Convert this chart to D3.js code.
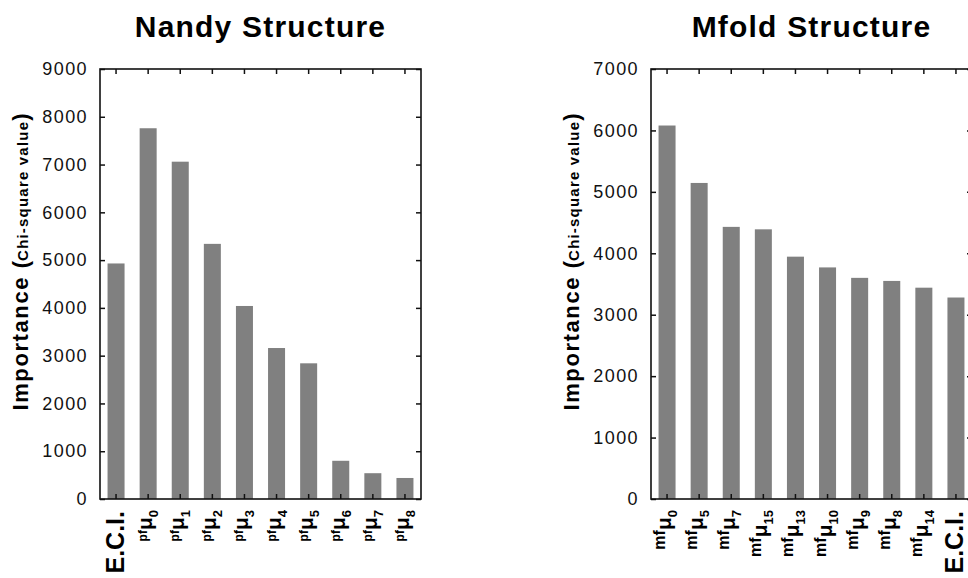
<!DOCTYPE html>
<html>
<head>
<meta charset="utf-8">
<script src="https://cdn.jsdelivr.net/npm/d3@7"></script>
<style>
  body { margin: 0; background: #fff; }
  svg { display: block; font-family: "Liberation Sans", Arial, Helvetica, sans-serif; }
</style>
</head>
<body>
<svg id="chart" width="968" height="578"></svg>
<script>
// values
let nandyLabels = ["E.C.I.", "pfμ0", "pfμ1", "pfμ2", "pfμ3", "pfμ4", "pfμ5", "pfμ6", "pfμ7", "pfμ8"];
let nandyValues = [4930, 7760, 7060, 5340, 4040, 3160, 2840, 800, 540, 440];
let nandyTicks = [0, 1000, 2000, 3000, 4000, 5000, 6000, 7000, 8000, 9000];

let mfoldLabels = ["mfμ0", "mfμ5", "mfμ7", "mfμ15", "mfμ13", "mfμ10", "mfμ9", "mfμ8", "mfμ14", "E.C.I."];
let mfoldValues = [6080, 5145, 4430, 4390, 3945, 3770, 3600, 3550, 3440, 3280];
let mfoldTicks = [0, 1000, 2000, 3000, 4000, 5000, 6000, 7000];

let svg = d3.select("#chart");

var drawPanel = function(opts){
  let top = 69, bottom = 499;
  let g = svg.append("g");

  let yScale = d3.scaleLinear()
    .domain([0, d3.max(opts.ticks)])
    .range([bottom, top]);

  let xScale = d3.scaleBand()
    .domain(opts.labels)
    .range([opts.left, opts.right])
    .paddingInner(0.47)
    .paddingOuter(0.235);

  // bars
  g.selectAll("rect.bar")
    .data(opts.values)
    .enter().append("rect")
      .attr("class", "bar")
      .attr("x", (d, i) => xScale(opts.labels[i]))
      .attr("y", d => yScale(d))
      .attr("width", xScale.bandwidth())
      .attr("height", d => bottom - yScale(d))
      .attr("fill", "#808080");

  // all ticks point into the plot
  let yLeft = d3.axisLeft(yScale).tickValues(opts.ticks).tickFormat(d3.format("d"))
    .tickSizeInner(-5).tickSizeOuter(0).tickPadding(12);
  let yRight = d3.axisRight(yScale).tickValues(opts.ticks)
    .tickSizeInner(-5).tickSizeOuter(0).tickFormat("");
  let xTop = d3.axisTop(xScale).tickSizeInner(-5).tickSizeOuter(0).tickFormat("");
  let xBottom = d3.axisBottom(xScale).tickSizeInner(-5).tickSizeOuter(0).tickFormat("");

  let axes = [
    [yLeft, "translate(" + opts.left + ",0)"],
    [yRight, "translate(" + opts.right + ",0)"],
    [xTop, "translate(0," + top + ")"],
    [xBottom, "translate(0," + bottom + ")"]
  ];
  axes.forEach(a => {
    let ag = g.append("g").attr("transform", a[1]).call(a[0]);
    ag.select(".domain").remove();
    ag.selectAll("line").attr("stroke", "#111").attr("stroke-width", 1.5);
    ag.selectAll("text")
      .attr("font-family", "'Liberation Sans', Arial, sans-serif")
      .attr("font-size", 18)
      .attr("letter-spacing", 1.4)
      .attr("fill", "#111");
  });

  // frame
  g.append("rect")
    .attr("x", opts.left).attr("y", top)
    .attr("width", opts.right - opts.left).attr("height", bottom - top)
    .attr("fill", "none").attr("stroke", "#111").attr("stroke-width", 1.6);

  // title
  g.append("text")
    .attr("x", (opts.left + opts.right) / 2)
    .attr("y", 37)
    .attr("text-anchor", "middle")
    .attr("font-size", 30)
    .attr("font-weight", "bold")
    .attr("letter-spacing", 1.2)
    .text(opts.title);

  // y-axis label
  let yl = g.append("text")
    .attr("transform", "translate(" + opts.ylabelX + ",262) rotate(-90)")
    .attr("text-anchor", "middle")
    .attr("font-weight", "bold");
  yl.append("tspan").attr("font-size", 22).attr("letter-spacing", 1.6).text("Importance ");
  yl.append("tspan").attr("font-size", 22).text("(");
  yl.append("tspan").attr("font-size", 15).attr("letter-spacing", 1.2).text("Chi-square value");
  yl.append("tspan").attr("font-size", 22).text(")");

  // category labels, rotated
  opts.labels.forEach(lab => {
    let cx = xScale(lab) + xScale.bandwidth() / 2;
    if (lab.indexOf("μ") < 0) {
      g.append("text")
        .attr("transform", "translate(" + (cx + 7.5) + ",511) rotate(-90)")
        .attr("text-anchor", "end")
        .attr("font-size", 25)
        .attr("font-weight", "bold")
        .text(lab);
      return;
    }
    let parts = lab.split("μ");
    let t = g.append("text")
      .attr("transform", "translate(" + (cx + 4) + ",510) rotate(-90)")
      .attr("text-anchor", "end")
      .attr("font-weight", "bold");
    t.append("tspan").attr("font-size", opts.prefixSize).attr("dy", -opts.prefixRaise).text(parts[0]);
    t.append("tspan").attr("font-size", 21).attr("dy", opts.prefixRaise).text("μ");
    t.append("tspan").attr("font-size", 13).attr("dy", 6).text(parts[1]);
  });
}

drawPanel({
  title: "Nandy Structure",
  labels: nandyLabels,
  values: nandyValues,
  ticks: nandyTicks,
  left: 100, right: 421,
  ylabelX: 28,
  prefixSize: 12, prefixRaise: 5
});

drawPanel({
  title: "Mfold Structure",
  labels: mfoldLabels,
  values: mfoldValues,
  ticks: mfoldTicks,
  left: 651, right: 972,
  ylabelX: 579,
  prefixSize: 16, prefixRaise: 6
});
</script>
</body>
</html>
